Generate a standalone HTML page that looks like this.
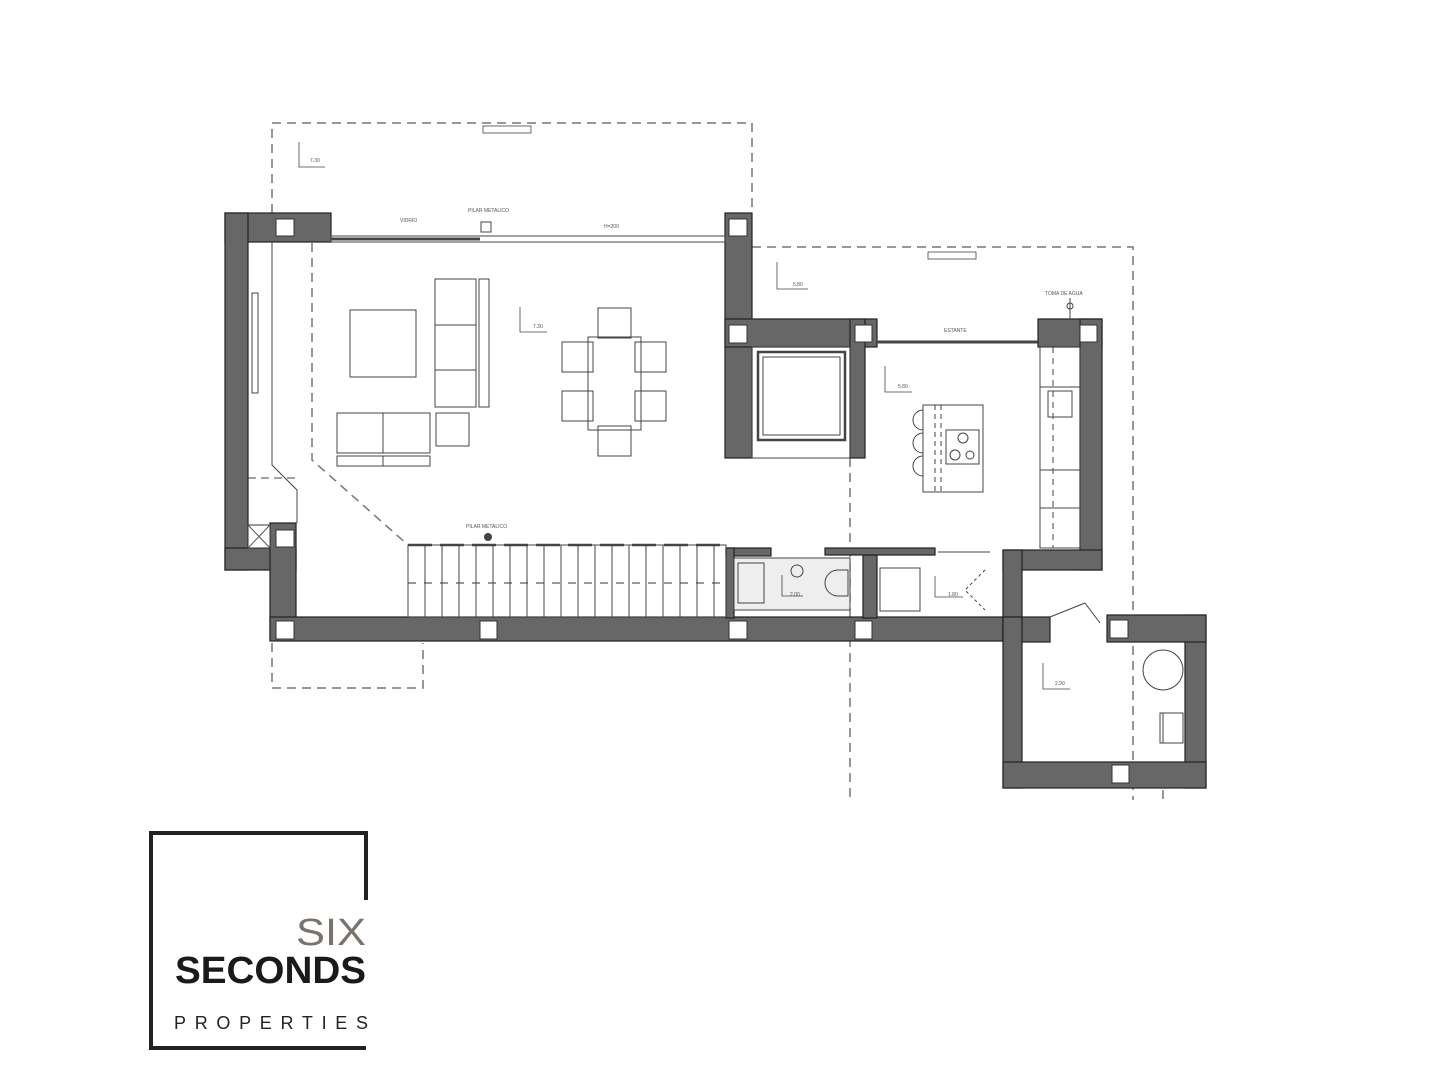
<!DOCTYPE html>
<html><head><meta charset="utf-8"><style>
html,body{margin:0;padding:0;background:#fff;}
svg{display:block}
</style></head><body>
<svg width="1440" height="1080" viewBox="0 0 1440 1080" xmlns="http://www.w3.org/2000/svg" font-family="Liberation Sans, sans-serif">
<rect width="1440" height="1080" fill="#fff"/>
<g fill="none" stroke="#777" stroke-width="1.5" stroke-dasharray="9,6">
<polyline points="272,213 272,123 752,123 752,213"/>
<polyline points="752,247 1133,247 1133,800"/>
<line x1="850" y1="458" x2="850" y2="800"/>
<polyline points="272,643 272,688 423,688 423,643"/>
<polyline points="312,243 312,460 408,545"/>
<line x1="408" y1="545" x2="726" y2="545" stroke="#444" stroke-width="2.5" stroke-dasharray="24,8"/>
<line x1="408" y1="583" x2="726" y2="583" stroke-dasharray="8,8"/>
<line x1="1163" y1="790" x2="1163" y2="800"/>
</g>
<g fill="#676767" stroke="#222" stroke-width="1.2">
<rect x="225" y="213" width="106" height="29"/>
<rect x="225" y="213" width="23" height="357"/>
<rect x="225" y="548" width="71" height="22"/>
<rect x="270" y="523" width="26" height="117"/>
<rect x="270" y="617" width="752" height="24"/>
<rect x="725" y="213" width="27" height="245"/>
<rect x="725" y="319" width="152" height="28"/>
<rect x="850" y="319" width="15" height="139"/>
<rect x="1038" y="319" width="64" height="28"/>
<rect x="1080" y="319" width="22" height="251"/>
<rect x="1003" y="550" width="99" height="20"/>
<rect x="1003" y="550" width="19" height="91"/>
<rect x="1003" y="617" width="47" height="25"/>
<rect x="1003" y="617" width="19" height="171"/>
<rect x="1185" y="615" width="21" height="173"/>
<rect x="1003" y="762" width="203" height="26"/>
<rect x="1107" y="615" width="99" height="27"/>
<rect x="726" y="548" width="45" height="8"/>
<rect x="726" y="548" width="8" height="70"/>
<rect x="863" y="555" width="14" height="63"/>
<rect x="825" y="548" width="110" height="7"/>
</g>
<g fill="#fff" stroke="#333" stroke-width="1">
<rect x="276" y="219" width="18" height="17"/><rect x="729" y="219" width="18" height="17"/>
<rect x="729" y="325" width="18" height="18"/><rect x="855" y="325" width="17" height="17"/>
<rect x="1080" y="325" width="17" height="17"/><rect x="276" y="530" width="18" height="17"/>
<rect x="276" y="621" width="18" height="18"/><rect x="480" y="621" width="17" height="18"/>
<rect x="729" y="621" width="18" height="18"/><rect x="855" y="621" width="17" height="18"/>
<rect x="1110" y="620" width="18" height="18"/><rect x="1112" y="765" width="17" height="18"/>
<rect x="248" y="525" width="22" height="23"/>
</g>
<path d="M248 525 L270 548 M270 525 L248 548" stroke="#555" stroke-width="1"/>
<g fill="none" stroke="#444" stroke-width="1">
<rect x="331" y="236" width="394" height="6"/>
<line x1="331" y1="239" x2="480" y2="239" stroke-width="3"/>
<rect x="481" y="222" width="10" height="10"/>
<polyline points="272,242 272,465 297,490 297,523"/>
<line x1="248" y1="478" x2="297" y2="478" stroke-dasharray="8,5"/>
<rect x="252" y="293" width="6" height="100"/>
<line x1="877" y1="342" x2="1038" y2="342" stroke-width="3"/>
<rect x="752" y="347" width="98" height="111"/>
<rect x="758" y="352" width="87" height="88" stroke-width="2.5"/>
<rect x="763" y="357" width="77" height="78"/>
<rect x="408" y="545" width="318" height="72"/>
<path d="M425 545v72M442 545v72M459 545v72M476 545v72M493 545v72M510 545v72M527 545v72M544 545v72M561 545v72M578 545v72M595 545v72M612 545v72M629 545v72M646 545v72M663 545v72M680 545v72M697 545v72M714 545v72"/>
<rect x="350" y="310" width="66" height="67"/>
<rect x="435" y="279" width="41" height="128"/><line x1="435" y1="325" x2="476" y2="325"/><line x1="435" y1="370" x2="476" y2="370"/>
<rect x="479" y="279" width="10" height="128"/>
<rect x="337" y="413" width="93" height="40"/><line x1="383" y1="413" x2="383" y2="453"/>
<rect x="337" y="456" width="93" height="10"/><line x1="383" y1="456" x2="383" y2="466"/>
<rect x="436" y="413" width="33" height="33"/>
<rect x="588" y="337" width="53" height="93"/>
<rect x="598" y="308" width="33" height="30"/><rect x="598" y="426" width="33" height="30"/>
<rect x="562" y="342" width="31" height="30"/><rect x="562" y="391" width="31" height="30"/>
<rect x="635" y="342" width="31" height="30"/><rect x="635" y="391" width="31" height="30"/>
<rect x="923" y="405" width="60" height="87"/>
<rect x="946" y="430" width="33" height="34"/>
<circle cx="963" cy="438" r="5"/><circle cx="955" cy="455" r="5"/><circle cx="970" cy="455" r="4"/>
<path d="M923 410 a8 8 0 0 0 0 20 M923 433 a8 8 0 0 0 0 20 M923 456 a8 8 0 0 0 0 20"/>
<line x1="935" y1="405" x2="935" y2="492" stroke-dasharray="5,4"/><line x1="941" y1="405" x2="941" y2="492" stroke-dasharray="5,4"/>
<rect x="1040" y="347" width="40" height="201"/>
<line x1="1040" y1="387" x2="1080" y2="387"/><line x1="1040" y1="470" x2="1080" y2="470"/><line x1="1040" y1="508" x2="1080" y2="508"/>
<rect x="1048" y="391" width="24" height="26"/>
<line x1="1053" y1="347" x2="1053" y2="548" stroke-dasharray="6,5"/>
<rect x="734" y="558" width="116" height="52" fill="#eee"/>
<rect x="738" y="563" width="26" height="40"/>
<path d="M848 570 h-10 a12 12 0 0 0 0 26 h10 z"/>
<circle cx="797" cy="571" r="6"/>
<rect x="880" y="568" width="40" height="43"/>
<line x1="938" y1="552" x2="990" y2="552"/>
<path d="M985 570 l-20 20 l20 20" stroke-dasharray="3,3"/>
<line x1="1050" y1="617" x2="1085" y2="603"/><path d="M1085 603 l15 20"/>
<circle cx="1163" cy="670" r="20"/>
<rect x="1160" y="713" width="23" height="30"/>
<rect x="1160" y="713" width="3" height="30"/>
<line x1="1070" y1="298" x2="1070" y2="319"/><circle cx="1070" cy="306" r="3"/>
</g>
<g fill="none" stroke="#444" stroke-width="0.8">
<polyline points="299,142 299,167 325,167"/><polyline points="520,307 520,332 547,332"/>
<polyline points="777,262 777,289 808,289"/><polyline points="885,366 885,392 912,392"/>
<polyline points="782,575 782,596 803,596"/><polyline points="935,576 935,597 963,597"/>
<polyline points="1043,663 1043,689 1070,689"/>
<rect x="483" y="126" width="48" height="7"/><rect x="928" y="252" width="48" height="7"/>
</g>
<g fill="#555" font-size="5">
<text x="310" y="162">7.30</text><text x="533" y="328">7.30</text><text x="793" y="286">5.80</text>
<text x="898" y="388">5.80</text><text x="790" y="596">2.00</text><text x="948" y="596">1.80</text>
<text x="1055" y="685">2.90</text><text x="466" y="528">PILAR METALICO</text>
<text x="468" y="212">PILAR METALICO</text><text x="400" y="222">VIDRIO</text><text x="604" y="228">H=200</text>
<text x="944" y="332">ESTANTE</text><text x="1045" y="295">TOMA DE AGUA</text>
</g>
<circle cx="488" cy="537" r="4" fill="#444"/>
<g fill="none" stroke="#222" stroke-width="4">
<polyline points="366,900 366,833 151,833 151,1048 366,1048"/>
</g>
<text x="296" y="945" textLength="70" lengthAdjust="spacingAndGlyphs" font-size="38" fill="#7b726b">SIX</text>
<text x="175" y="983" textLength="191" lengthAdjust="spacingAndGlyphs" font-size="38" font-weight="bold" fill="#1a1a1a">SECONDS</text>
<text x="174" y="1029" textLength="194" lengthAdjust="spacing" font-size="18" fill="#222">PROPERTIES</text>
</svg>
</body></html>
